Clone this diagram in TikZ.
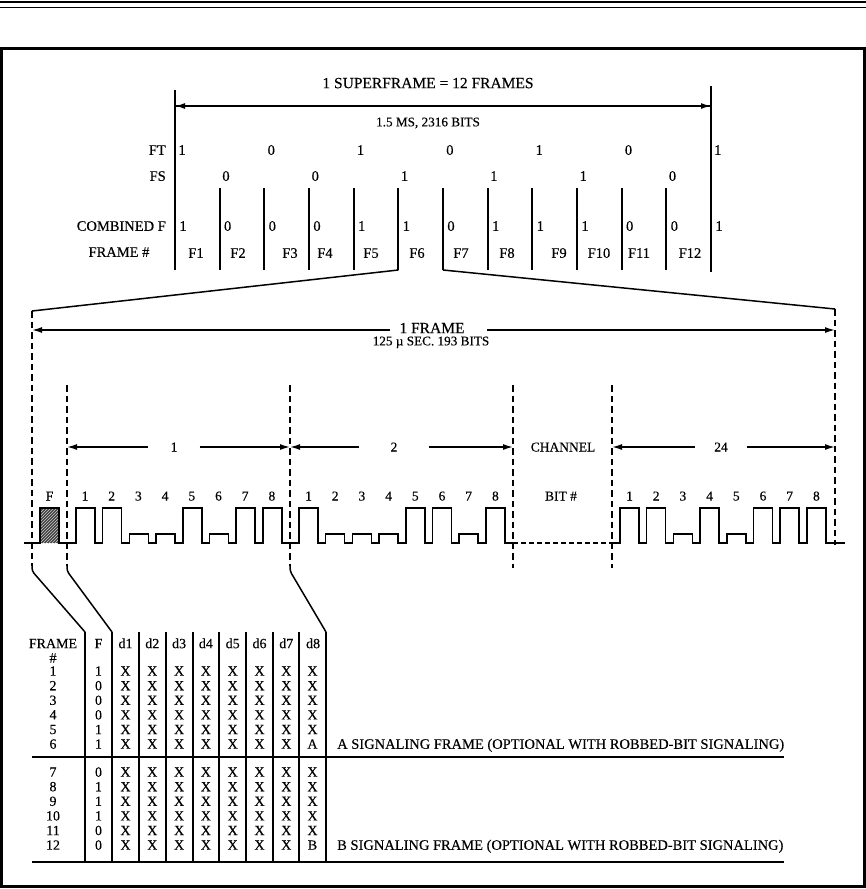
\documentclass[tikz,border=0pt]{standalone}
\usepackage{fontspec}
\setmainfont{Liberation Serif}[FakeBold=0.3]
\usetikzlibrary{arrows.meta,patterns}
\begin{document}
\begin{tikzpicture}[x=1pt,y=-1pt,
  every node/.style={inner sep=0pt, text height=9pt, text depth=0pt, font=\fontsize{13.5}{13.5}\selectfont},
  big/.style={font=\fontsize{15.5}{15.5}\selectfont, text height=10.3pt},
  med/.style={font=\fontsize{14.5}{14.5}\selectfont, text height=9.6pt},
  sml/.style={font=\fontsize{13.2}{13.2}\selectfont, text height=8.7pt},
  tb/.style={font=\fontsize{14}{14}\selectfont, text height=9.3pt},
  ln/.style={line width=1.5pt},
  bar/.style={line width=2pt},
  dsh/.style={line width=1.4pt, dash pattern=on 6.5pt off 4pt},
  arr/.style={line width=1.5pt, -{Latex[length=10pt,width=6pt]}},
  lbl/.style={inner xsep=22pt},
]
\useasboundingbox (0,0) rectangle (866,889);
% header rules and frame
\draw[line width=2.2pt] (0,2) -- (866,2);
\draw[line width=1pt] (0,7) -- (866,7);
\draw[line width=2.5pt] (1.5,48.5) rectangle (864.5,886.5);

% ---------- superframe ----------
\node[big] (sf) at (428,83) {1 SUPERFRAME = 12 FRAMES};
\node[sml] (ms) at (428,122) {1.5 MS, 2316 BITS};
\coordinate (L0) at (175,90);  \coordinate (L1) at (175,270);
\coordinate (R0) at (711,86);  \coordinate (R1) at (711,272);
\draw[bar] (L0) -- (L1);
\draw[bar] (R0) -- (R1);
\coordinate (aL) at (175,106); \coordinate (aR) at (711,106);
\draw[arr] (aR) -- (aL);
\draw[arr] (aL) -- (aR);
\node[med,anchor=east] (ft) at (166,150) {FT};
\node[med,anchor=east] (fs) at (166,176) {FS};
\node[med,anchor=east] (cf) at (166,226) {COMBINED F};
\node[med] (fn) at (119,252) {FRAME \#};
\foreach \v [count=\k] in {1,0,1,0,1,0,1}
  \node[med] (ft\k) at ({182+89.3*(\k-1)},150) {\v};
\foreach \v [count=\k] in {0,0,1,1,1,0}
  \node[med] (fs\k) at ({226+89.3*(\k-1)},176) {\v};
\foreach \i in {1,...,11}
  \draw[bar] ({175+44.67*\i},188) coordinate (b\i) -- ({175+44.67*\i},270) coordinate (e\i);
\foreach \v [count=\k] in {1,0,0,0,1,1,0,1,1,1,0,0,1}
  \node[med] (cf\k) at ({183+44.67*(\k-1)},226) {\v};
\foreach \x [count=\k] in {196,238,290,325,371,417,461,507,559,599,639,690}
  \node[med] (F\k) at (\x,253) {F\k};

% ---------- expansion lines ----------
\coordinate (fl) at (32,311);
\coordinate (fr) at (835,309);
\draw[ln] (e5) -- (fl);
\draw[ln] (e6) -- (fr);

% ---------- one frame ----------
\node[big] (of) at (432,328) {1 FRAME};
\node[sml] (os) at (431,341) {125 \textmu\ SEC. 193 BITS};
\coordinate (oa) at (32,330); \coordinate (ob) at (835,330);
\draw[arr] (390,330) -- (oa);
\draw[arr] (487,330) -- (ob);
\draw[dsh] (fl) -- (32,566);
\draw[dsh] (fr) -- (835,545);
\foreach \x/\e in {67/566,290/566,513/568,612/568}
  \draw[dsh] (\x,385) -- (\x,\e);

% channel arrows
\node[lbl] (c1) at (174,447) {1};
\node[lbl,inner xsep=31pt] (c2) at (394,447) {2};
\node (ch) at (563,447) {CHANNEL};
\node[lbl,inner xsep=19pt] (c24) at (721,447) {24};
\draw[arr] (c1.west) -- (67,447);
\draw[arr] (c1.east) -- (290,447);
\draw[arr] (c2.west) -- (290,447);
\draw[arr] (c2.east) -- (513,447);
\draw[arr] (c24.west) -- (612,447);
\draw[arr] (c24.east) -- (835,447);

% bit labels
\node (fb) at (49.5,496) {F};
\foreach \k in {1,...,8} {
  \node (a\k) at ({85+26.7*(\k-1)},496) {\k};
  \node (bb\k) at ({308.5+26.7*(\k-1)},496) {\k};
  \node (cc\k) at ({629.5+26.7*(\k-1)},496) {\k};
}
\node (bit) at (561,496) {BIT \#};

% waveform
\fill[black!75] (40,508) rectangle (59,543);
\fill[pattern=north east lines, pattern color=white!80!black] (40,508) rectangle (59,543);
\draw[ln, line join=miter] (24,543) -- (40,543) -- (40,508) -- (59,508) -- (59,543)
  \foreach \h [count=\k] in {508,508,534,534,508,534,508,508} {
    -- ({76+26.7*(\k-1)},543) -- ({76+26.7*(\k-1)},\h) -- ({95+26.7*(\k-1)},\h) -- ({95+26.7*(\k-1)},543) }
  \foreach \h [count=\k] in {508,534,534,534,508,508,534,508} {
    -- ({299+26.7*(\k-1)},543) -- ({299+26.7*(\k-1)},\h) -- ({318+26.7*(\k-1)},\h) -- ({318+26.7*(\k-1)},543) }
  -- (513,543);
\draw[ln, dash pattern=on 5pt off 3pt] (513,543) -- (612,543);
\draw[ln, line join=miter] (612,543)
  \foreach \h [count=\k] in {508,508,534,508,534,508,508,508} {
    -- ({620+26.7*(\k-1)},543) -- ({620+26.7*(\k-1)},\h) -- ({639+26.7*(\k-1)},\h) -- ({639+26.7*(\k-1)},543) }
  -- (845,543);

% ---------- table ----------
\foreach \x [count=\k] in {85,112,139,166,193,219,246,273,299,326}
  \coordinate (t\k) at (\x,632);
\draw[ln, rounded corners=3pt] (32,566) -- (32,571) -- (t1);
\draw[ln, rounded corners=3pt] (67,566) -- (67,571) -- (t2);
\draw[ln, rounded corners=3pt] (290,566) -- (290,571) -- (t10);
\foreach \k in {1,...,10}
  \draw[ln] (t\k) -- ++(0,230);
\coordinate (m0) at (32,757); \coordinate (m1) at (784,757);
\coordinate (n0) at (32,862); \coordinate (n1) at (784,862);
\draw[ln] (m0) -- (m1);
\draw[ln] (n0) -- (n1);

\node[tb] (hf) at (53,643.5) {FRAME};
\node[tb] (hn) at (53,658) {\#};
\node[tb] (hF) at (98.5,643.5) {F};
\foreach \k in {1,...,8}
  \node[tb] (hd\k) at ({125.5+26.8*(\k-1)},643.5) {d\k};
\foreach \f [count=\r] in {1,0,0,0,1,1,0,1,1,1,0,0} {
  \pgfmathsetmacro{\yy}{\r<7 ? 671+14.6*(\r-1) : 772+14.6*(\r-7)}
  \node[tb] (rn\r) at (53,\yy) {\r};
  \node[tb] (rf\r) at (98.5,\yy) {\f};
  \foreach \k in {1,...,7}
    \node[tb] (x\r-\k) at ({125.5+26.8*(\k-1)},\yy) {X};
}
\foreach \r in {1,2,3,4,5,7,8,9,10,11} {
  \pgfmathsetmacro{\yy}{\r<7 ? 671+14.6*(\r-1) : 772+14.6*(\r-7)}
  \node[tb] (x\r-8) at (312.5,\yy) {X};
}
\node[tb] (sa) at (312.5,744) {A};
\node[tb] (sb) at (312.5,845) {B};
\node[med,anchor=west] (ta) at (337,744) {A SIGNALING FRAME (OPTIONAL WITH ROBBED-BIT SIGNALING)};
\node[med,anchor=west] (tb) at (337,845) {B SIGNALING FRAME (OPTIONAL WITH ROBBED-BIT SIGNALING)};
\end{tikzpicture}
\end{document}
